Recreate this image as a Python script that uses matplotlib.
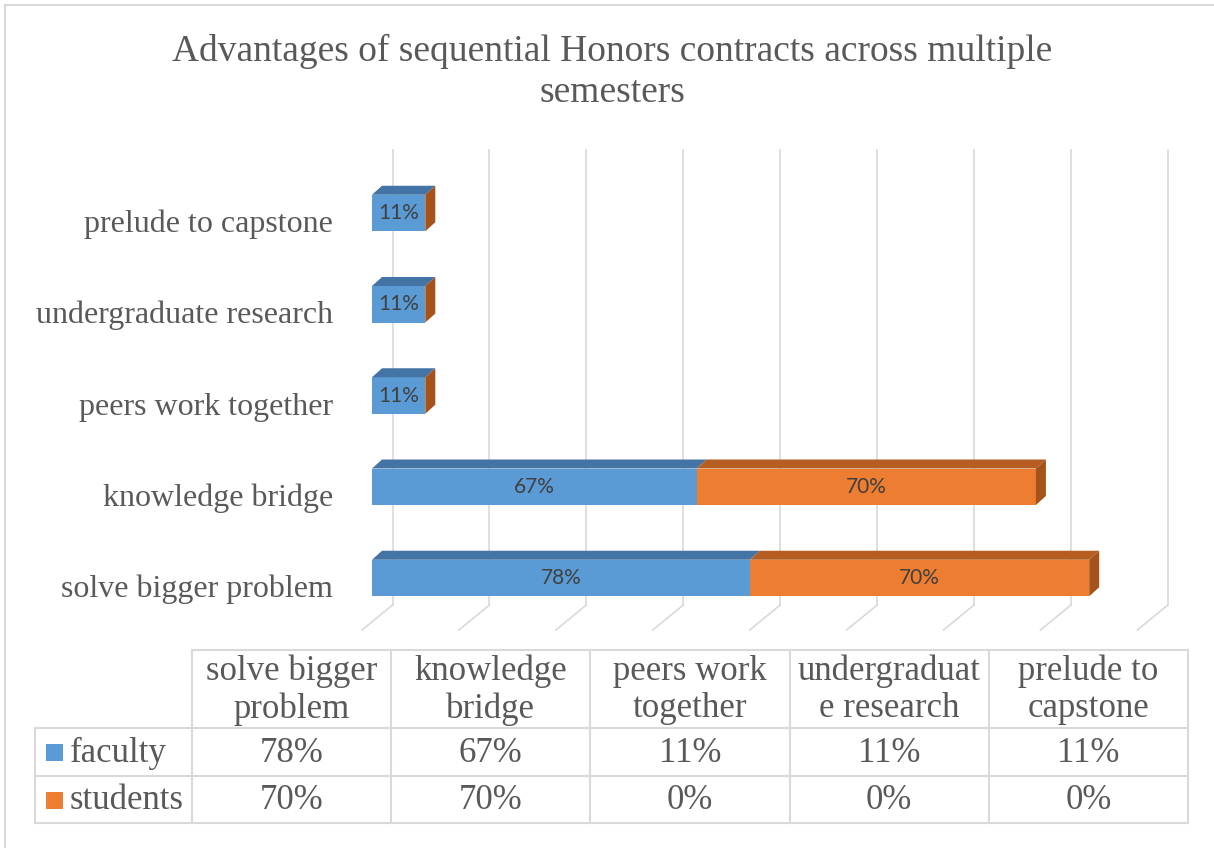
import numpy as np
import matplotlib.pyplot as plt
from matplotlib.patches import Polygon, Rectangle
from matplotlib.transforms import ScaledTranslation

# data (bottom category first)
categories = ['solve bigger problem', 'knowledge bridge', 'peers work together',
              'undergraduate research', 'prelude to capstone']
table_headers = ['solve bigger\nproblem', 'knowledge\nbridge', 'peers work\ntogether',
                 'undergraduat\ne research', 'prelude to\ncapstone']
faculty = [78, 67, 11, 11, 11]
students = [70, 70, 0, 0, 0]
series_names = ['faculty', 'students']
grid_ticks = [0, 20, 40, 60, 80, 100, 120, 140, 160]

W, H = 1214, 848
PX = 4.846          # pixels per percent
CAT = 91.25         # pixels per category

front = {'faculty': '#5B9BD5', 'students': '#ED7D31'}
top = {'faculty': '#4473A6', 'students': '#B65D21'}
side = {'faculty': '#3F6C9C', 'students': '#A5521B'}
GRID = '#D9D9D9'
TXT = '#595959'


def box(l, t, r, b):
    return [l / W, 1 - b / H, (r - l) / W, (b - t) / H]


fig = plt.figure(figsize=(W / 100, H / 100), dpi=100)

# background layer: frame + data table, in pixel coordinates
tax = fig.add_axes([0, 0, 1, 1])
tax.set_xlim(0, W)
tax.set_ylim(H, 0)
tax.axis('off')
tax.plot([5, 5], [H, 5], color=GRID, lw=1.5)
tax.plot([5, W], [5, 5], color=GRID, lw=1.5)

# main chart
ax = fig.add_axes(box(340, 140, W, 640))
ax.set_facecolor('none')
ax.set_xlim((340 - 372) / PX, (W - 372) / PX)
ax.set_ylim(-(640 - 578) / CAT, (578 - 140) / CAT)
for s in ax.spines.values():
    s.set_visible(False)
ax.set_xticks([])

y = np.arange(len(categories))
h = 0.40
bdx, bdy = 10 / PX, 9 / CAT           # bar depth
wdx = 20.5 / PX                       # back wall shift
fdx = -10 / PX                        # floor front shift
wall_bot, wall_top = -(605 - 578) / CAT, (578 - 150) / CAT
floor_front = -(630 - 578) / CAT

for v in grid_ticks:
    ax.plot([v + wdx, v + wdx], [wall_bot, wall_top], color=GRID, lw=1.2, zorder=1)
    ax.plot([v + wdx, v + fdx], [wall_bot, floor_front], color=GRID, lw=1.2, zorder=1)

left = np.zeros(len(categories))
for name, vals in zip(series_names, [faculty, students]):
    vals = np.array(vals, dtype=float)
    ax.barh(y, vals, left=left, height=h, color=front[name], zorder=3)
    for yi, l0, v in zip(y, left, vals):
        if v <= 0:
            continue
        t = yi + h / 2
        ax.add_patch(Polygon([(l0, t), (l0 + v, t), (l0 + v + bdx, t + bdy), (l0 + bdx, t + bdy)],
                             closed=True, facecolor=top[name], edgecolor='none', zorder=3))
        ax.text(l0 + v / 2, yi, f'{v:.0f}%', ha='center', va='center',
                fontsize=15, family='Lato', color='#404040', zorder=5)
    left += vals

# side face at the end of each stack
for yi, end in zip(y, left):
    ax.add_patch(Polygon([(end, yi - h / 2), (end, yi + h / 2),
                          (end + bdx, yi + h / 2 + bdy), (end + bdx, yi - h / 2 + bdy)],
                         closed=True, facecolor=side['students'], edgecolor='none', zorder=4))

ax.set_yticks(y)
ax.set_yticklabels(categories, family='Liberation Serif', fontsize=23, color=TXT)
ax.tick_params(axis='y', length=0, pad=5)
shift = ScaledTranslation(0, -8 / 100, fig.dpi_scale_trans)
for lab in ax.get_yticklabels():
    lab.set_transform(lab.get_transform() + shift)

# title
fig.text(612 / W, 1 - 72 / H,
         'Advantages of sequential Honors contracts across multiple\nsemesters',
         ha='center', va='center', multialignment='center', linespacing=1.24,
         family='Liberation Serif', fontsize=27, color=TXT)

# data table
cols = np.linspace(192, 1188, len(categories) + 1)
rows = [650, 728, 776, 823]
tax.plot([192, 1188], [rows[0], rows[0]], color=GRID, lw=1.5)
for r in rows[1:]:
    tax.plot([35, 1188], [r, r], color=GRID, lw=1.5)
tax.plot([35, 35], [rows[1], rows[3]], color=GRID, lw=1.5)
for c in cols:
    tax.plot([c, c], [rows[0], rows[3]], color=GRID, lw=1.5)

tfont = dict(family='Liberation Serif', fontsize=25, color=TXT)
for i, head in enumerate(table_headers):
    cx = (cols[i] + cols[i + 1]) / 2
    tax.text(cx, (rows[0] + rows[1]) / 2 + 1, head, ha='center', va='center',
             multialignment='center', linespacing=1.16, **tfont)
    for j, vals in enumerate([faculty, students]):
        tax.text(cx, (rows[j + 1] + rows[j + 2]) / 2 + 1, f'{vals[i]}%',
                 ha='center', va='center', **tfont)

for j, name in enumerate(series_names):
    cy = (rows[j + 1] + rows[j + 2]) / 2
    tax.add_patch(Rectangle((46, cy - 8), 17, 17, facecolor=front[name], edgecolor='none'))
    tax.text(70, cy + 1, name, ha='left', va='center', **tfont)

fig.savefig('out.png', dpi=100)
